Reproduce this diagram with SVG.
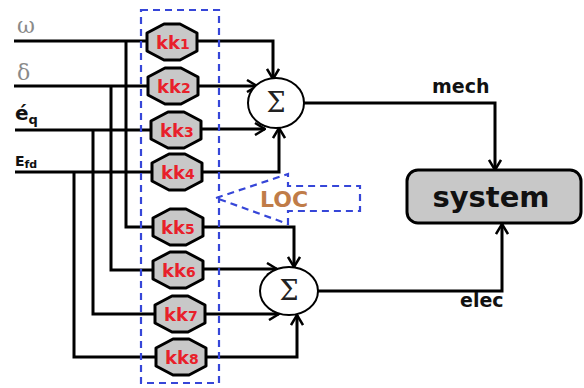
<svg xmlns="http://www.w3.org/2000/svg" width="584" height="388" viewBox="0 0 584 388">
<defs>
<style>
.w{stroke:#000;stroke-width:3;fill:none;stroke-linejoin:miter}
.hex{fill:#c8c8c8;stroke:#000;stroke-width:3;stroke-linejoin:round}
.kk{font-family:"DejaVu Sans",sans-serif;font-weight:bold;fill:#e8202a;font-size:18px}
.sub{font-size:14px}
.blue{stroke:#3646d8;stroke-width:2.2;fill:none;stroke-dasharray:7,5}
.lbl{font-family:"DejaVu Sans",sans-serif;font-weight:bold;fill:#111}
.gr{font-family:"DejaVu Serif",serif;fill:#8a8a8a;font-size:22px}
.sig{fill:#fff;stroke:#000;stroke-width:2}
.sigt{font-family:"DejaVu Serif","Liberation Serif",serif;font-size:27px;fill:#222}
</style>
<marker id="ar" markerWidth="12" markerHeight="14" refX="11" refY="7" orient="auto" markerUnits="userSpaceOnUse">
<path d="M1,1 L11,7 L1,13" fill="none" stroke="#000" stroke-width="2.5"/>
</marker>
<path id="hx" d="M-8,-18 L8,-18 L25,-9 L25,9 L8,18 L-8,18 L-25,9 L-25,-9 Z"/>
</defs>
<rect width="584" height="388" fill="#fff"/>

<g id="labels">
<text class="gr" x="17" y="33">ω</text>
<text class="gr" x="17" y="80">δ</text>
<text class="lbl" x="15" y="120" font-size="20">é<tspan font-size="13" dy="4">q</tspan></text>
<text class="lbl" x="15" y="166" font-size="14">E<tspan font-size="11" dy="2">fd</tspan></text>
</g>

<g id="connectors">
<path class="w" d="M14,41 H148"/>
<path class="w" d="M14,86 H149"/>
<path class="w" d="M15,130 H152"/>
<path class="w" d="M15,172 H153"/>
<path class="w" d="M126,41 V227 H154"/>
<path class="w" d="M111,86 V270 H154"/>
<path class="w" d="M93,130 V314 H156"/>
<path class="w" d="M74,172 V357 H157"/>
<path class="w" d="M197,41 H273 V79" marker-end="url(#ar)"/>
<path class="w" d="M198,86 H257" marker-end="url(#ar)"/>
<path class="w" d="M201,129 H265" marker-end="url(#ar)"/>
<path class="w" d="M202,172 H279 V128" marker-end="url(#ar)"/>
<path class="w" d="M203,227 H294 V267" marker-end="url(#ar)"/>
<path class="w" d="M203,269 H277" marker-end="url(#ar)"/>
<path class="w" d="M205,314 H279" marker-end="url(#ar)"/>
<path class="w" d="M206,357 H297 V315" marker-end="url(#ar)"/>
<path class="w" d="M304,103 H495 V170" marker-end="url(#ar)"/>
<path class="w" d="M318,291 H502 V224" marker-end="url(#ar)"/>
</g>

<g id="kk1"><use href="#hx" class="hex" x="172" y="42"/><text class="kk" x="156" y="49">kk<tspan class="sub">1</tspan></text></g>
<g id="kk2"><use href="#hx" class="hex" x="173" y="86"/><text class="kk" x="157" y="93">kk<tspan class="sub">2</tspan></text></g>
<g id="kk3"><use href="#hx" class="hex" x="176" y="130"/><text class="kk" x="160" y="137">kk<tspan class="sub">3</tspan></text></g>
<g id="kk4"><use href="#hx" class="hex" x="177" y="172"/><text class="kk" x="161" y="179">kk<tspan class="sub">4</tspan></text></g>
<g id="kk5"><use href="#hx" class="hex" x="178" y="227"/><text class="kk" x="161" y="234">kk<tspan class="sub">5</tspan></text></g>
<g id="kk6"><use href="#hx" class="hex" x="178" y="270"/><text class="kk" x="162" y="277">kk<tspan class="sub">6</tspan></text></g>
<g id="kk7"><use href="#hx" class="hex" x="180" y="314"/><text class="kk" x="164" y="321">kk<tspan class="sub">7</tspan></text></g>
<g id="kk8"><use href="#hx" class="hex" x="181" y="357"/><text class="kk" x="165" y="364">kk<tspan class="sub">8</tspan></text></g>

<g id="loc-box"><rect class="blue" x="141" y="10" width="78" height="373"/></g>

<g id="sum1"><ellipse class="sig" cx="276" cy="103" rx="28" ry="25"/><text class="sigt" x="276" y="112" text-anchor="middle">Σ</text></g>
<g id="sum2"><ellipse class="sig" cx="289" cy="291" rx="29" ry="24"/><text class="sigt" x="289" y="300" text-anchor="middle">Σ</text></g>

<g id="system">
<rect x="407" y="170" width="174" height="53" rx="11" fill="#c8c8c8" stroke="#000" stroke-width="3"/>
<text class="lbl" x="491" y="207" font-size="29" text-anchor="middle">system</text>
</g>
<text class="lbl" x="432" y="93" font-size="19">mech</text>
<text class="lbl" x="460" y="307" font-size="19">elec</text>

<g id="loc">
<path class="blue" d="M216,198 L288,174 V186 H360 V211 H288 V224 Z"/>
<text x="260" y="207" font-family="DejaVu Sans,sans-serif" font-weight="bold" font-size="22" fill="#c07c48">LOC</text>
</g>
</svg>
